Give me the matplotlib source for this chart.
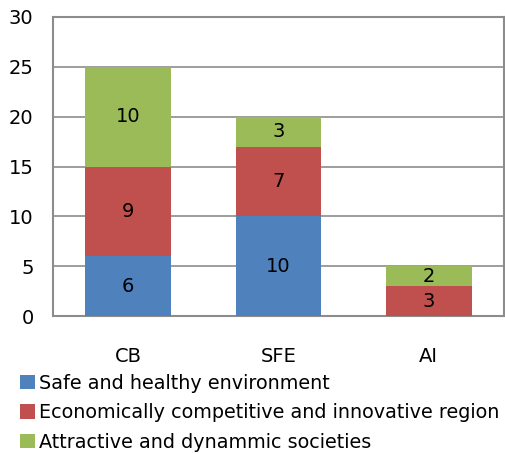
import matplotlib.pyplot as plt
from matplotlib.patches import Patch

categories = ['CB', 'SFE', 'AI']
safe = [6, 10, 0]
econ = [9, 7, 3]
attractive = [10, 3, 2]
series_names = ['Safe and healthy environment',
                'Economically competitive and innovative region',
                'Attractive and dynammic societies']
colors = ['#4F81BD', '#C0504D', '#9BBB59']

plt.rcParams['font.family'] = ['Verdana', 'DejaVu Sans']
fig = plt.figure(figsize=(5.06, 4.54), dpi=100)
ax = fig.add_axes([53/506, 1 - 316/454, 451/506, 299/454])

x = range(len(categories))
bottom = [0, 0, 0]
for vals, col in zip([safe, econ, attractive], colors):
    bars = ax.bar(x, vals, 0.57, bottom=bottom, color=col, zorder=3)
    for b, v, btm in zip(bars, vals, bottom):
        if v > 0:
            ax.text(b.get_x() + b.get_width() / 2, btm + v / 2, str(v),
                    ha='center', va='center', fontsize=14, color='black', zorder=4)
    bottom = [a + b for a, b in zip(bottom, vals)]

ax.set_xlim(-0.5, 2.5)
ax.set_ylim(0, 30)
ax.set_yticks(range(0, 31, 5))
ax.set_xticks(list(x))
ax.set_xticklabels(categories)
ax.tick_params(axis='both', length=0, labelsize=14)
ax.tick_params(axis='x', pad=22)
ax.tick_params(axis='y', pad=14)
ax.yaxis.grid(True, color='#8c8c8c', linewidth=1.2, zorder=0)
for s in ax.spines.values():
    s.set_color('#8c8c8c')
    s.set_linewidth(1.5)

handles = [Patch(facecolor=c) for c in colors]
fig.legend(handles, series_names, loc='upper left', bbox_to_anchor=(12/506, 1 - 366/454),
           frameon=False, fontsize=13.8, handlelength=0.8, handleheight=0.8,
           handletextpad=0.2, labelspacing=0.55, borderaxespad=0)

fig.savefig('out.png', dpi=100)
